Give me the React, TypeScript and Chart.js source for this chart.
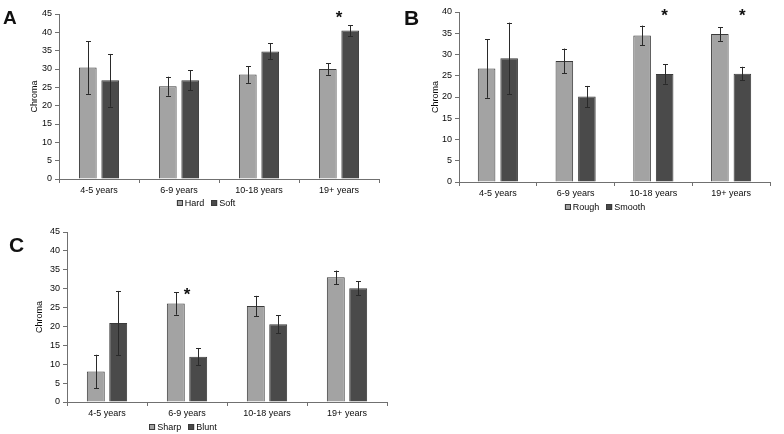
import React, { useEffect, useRef } from "react";
import { Chart, registerables } from "chart.js";

Chart.register(...registerables);

const categories = ["4-5 years", "6-9 years", "10-18 years", "19+ years"];

// Panel A
const seriesA = ["Hard", "Soft"];
const hardMeans = [30.4, 25.3, 28.5, 30.0];
const hardErrors = [7.2, 2.6, 2.3, 1.6];
const softMeans = [26.9, 26.9, 34.8, 40.5];
const softErrors = [7.2, 2.7, 2.2, 1.5];
const starsA = [{ category: 3, series: -1, value: 45.2 }];
const yMaxA = 45;

// Panel B
const seriesB = ["Rough", "Smooth"];
const roughMeans = [26.7, 28.5, 34.5, 34.8];
const roughErrors = [6.9, 2.9, 2.3, 1.6];
const smoothMeans = [29.1, 20.1, 25.4, 25.5];
const smoothErrors = [8.4, 2.5, 2.3, 1.6];
const starsB = [
  { category: 2, series: 1, value: 40.3 },
  { category: 3, series: 1, value: 40.3 },
];
const yMaxB = 40;

// Panel C
const seriesC = ["Sharp", "Blunt"];
const sharpMeans = [8.1, 26.1, 25.4, 33.0];
const sharpErrors = [4.4, 3.0, 2.7, 1.8];
const bluntMeans = [20.9, 12.0, 20.6, 30.1];
const bluntErrors = [8.5, 2.3, 2.4, 1.9];
const starsC = [{ category: 1, series: -1, value: 29.7 }];
const yMaxC = 45;

const yStep = 5;
const yTitle = "Chroma";

const LIGHT = "#a3a3a3";
const DARK = "#4a4a4a";
const EDGE = "#3a3a3a";
const AXIS = "#707070";
const TEXT = "#0a0a0a";
const FONT = "'Liberation Sans', Arial, sans-serif";

type Star = { category: number; series: number; value: number };

type Geo = {
  left: number;
  top: number;
  width: number;
  height: number;
  padL: number;
  padR: number;
  padT: number;
  padB: number;
  yWidth: number;
  legendX: number;
  legendY: number;
  catPct: number;
  barPct: number;
};

type PanelProps = {
  names: string[];
  means: number[][];
  errors: number[][];
  stars: Star[];
  yMax: number;
  geo: Geo;
};

function Panel({ names, means, errors, stars, yMax, geo }: PanelProps) {
  const ref = useRef<HTMLCanvasElement | null>(null);
  useEffect(() => {
    if (!ref.current) return;
    const colors = [LIGHT, DARK];
    const extras = {
      id: "extras",
      afterDatasetsDraw(chart: any) {
        const ctx = chart.ctx;
        const y = chart.scales.y;
        ctx.save();
        ctx.strokeStyle = "#2a2a2a";
        ctx.lineWidth = 1;
        chart.data.datasets.forEach((ds: any, di: number) => {
          const meta = chart.getDatasetMeta(di);
          meta.data.forEach((bar: any, i: number) => {
            const v = ds.data[i];
            const e = errors[di][i];
            const x = Math.round(bar.x) + 0.5;
            const yt = y.getPixelForValue(v + e);
            const yb = y.getPixelForValue(v - e);
            ctx.beginPath();
            ctx.moveTo(x, yt);
            ctx.lineTo(x, yb);
            ctx.moveTo(x - 2.5, Math.round(yt) + 0.5);
            ctx.lineTo(x + 2.5, Math.round(yt) + 0.5);
            ctx.moveTo(x - 2.5, Math.round(yb) + 0.5);
            ctx.lineTo(x + 2.5, Math.round(yb) + 0.5);
            ctx.stroke();
          });
        });
        ctx.restore();
      },
      afterDraw(chart: any) {
        const ctx = chart.ctx;
        const xs = chart.scales.x;
        const ys = chart.scales.y;
        ctx.save();
        // significance stars
        ctx.fillStyle = "#111";
        ctx.font = `bold 17px ${FONT}`;
        ctx.textAlign = "center";
        ctx.textBaseline = "alphabetic";
        stars.forEach((s) => {
          const x =
            s.series < 0
              ? xs.getPixelForValue(s.category)
              : chart.getDatasetMeta(s.series).data[s.category].x;
          const yy = ys.getPixelForValue(s.value);
          ctx.fillText("*", x, yy + 10);
        });
        // legend
        ctx.font = `9px ${FONT}`;
        ctx.textAlign = "left";
        ctx.textBaseline = "middle";
        const box = 6;
        const gap = 2;
        const spacing = 7;
        const widths = names.map((n) => box + gap + ctx.measureText(n).width);
        const total = widths.reduce((a, b) => a + b, 0) + spacing * (names.length - 1);
        let lx = geo.legendX - total / 2;
        names.forEach((n, i) => {
          ctx.fillStyle = colors[i];
          ctx.fillRect(lx, geo.legendY - box / 2, box, box);
          ctx.strokeStyle = EDGE;
          ctx.lineWidth = 1;
          ctx.strokeRect(Math.round(lx) + 0.5, Math.round(geo.legendY - box / 2) + 0.5, box - 1, box - 1);
          ctx.fillStyle = TEXT;
          ctx.fillText(n, lx + box + gap, geo.legendY + 0.5);
          lx += widths[i] + spacing;
        });
        ctx.restore();
      },
    };

    const chart = new Chart(ref.current, {
      type: "bar",
      data: {
        labels: categories,
        datasets: names.map((n, i) => ({
          label: n,
          data: means[i],
          backgroundColor: colors[i],
          borderColor: EDGE,
          borderWidth: 1,
          categoryPercentage: geo.catPct,
          barPercentage: geo.barPct,
        })),
      },
      options: {
        responsive: false,
        animation: false,
        devicePixelRatio: 1,
        layout: {
          padding: { left: geo.padL, right: geo.padR, top: geo.padT, bottom: geo.padB },
        },
        plugins: {
          legend: { display: false },
          tooltip: { enabled: false },
        },
        scales: {
          x: {
            grid: { drawOnChartArea: false, tickLength: 4, color: AXIS },
            border: { color: AXIS },
            ticks: { color: TEXT, font: { size: 9, family: FONT }, padding: 2, maxRotation: 0 },
            afterFit: (s: any) => {
              s.height = 18;
            },
          },
          y: {
            min: 0,
            max: yMax,
            grid: { drawOnChartArea: false, tickLength: 4, color: AXIS },
            border: { color: AXIS },
            ticks: { stepSize: yStep, color: TEXT, font: { size: 9, family: FONT }, padding: 3 },
            title: {
              display: true,
              text: yTitle,
              color: TEXT,
              font: { size: 9, family: FONT },
              padding: 0,
            },
            afterFit: (s: any) => {
              s.width = geo.yWidth;
            },
          },
        },
      },
      plugins: [extras],
    } as any);
    return () => chart.destroy();
  }, []);
  return (
    <canvas
      ref={ref}
      width={geo.width}
      height={geo.height}
      style={{
        position: "absolute",
        left: geo.left,
        top: geo.top,
        width: geo.width,
        height: geo.height,
      }}
    />
  );
}

const letterStyle: React.CSSProperties = {
  position: "absolute",
  fontFamily: FONT,
  fontWeight: "bold",
  lineHeight: 1,
  color: "#111",
};

export default function App() {
  return (
    <div
      style={{
        position: "fixed",
        left: 0,
        top: 0,
        width: 784,
        height: 434,
        background: "#fff",
        overflow: "hidden",
      }}
    >
      <Panel
        names={seriesA}
        means={[hardMeans, softMeans]}
        errors={[hardErrors, softErrors]}
        stars={starsA}
        yMax={yMaxA}
        geo={{
          left: 0,
          top: 0,
          width: 392,
          height: 218,
          padL: 29,
          padR: 13,
          padT: 14,
          padB: 21,
          yWidth: 30,
          legendX: 206,
          legendY: 203,
          catPct: 0.56,
          barPct: 0.79,
        }}
      />
      <Panel
        names={seriesB}
        means={[roughMeans, smoothMeans]}
        errors={[roughErrors, smoothErrors]}
        stars={starsB}
        yMax={yMaxB}
        geo={{
          left: 392,
          top: 0,
          width: 392,
          height: 218,
          padL: 38,
          padR: 14,
          padT: 12,
          padB: 18,
          yWidth: 29,
          legendX: 213,
          legendY: 207,
          catPct: 0.58,
          barPct: 0.78,
        }}
      />
      <Panel
        names={seriesC}
        means={[sharpMeans, bluntMeans]}
        errors={[sharpErrors, bluntErrors]}
        stars={starsC}
        yMax={yMaxC}
        geo={{
          left: 0,
          top: 218,
          width: 392,
          height: 216,
          padL: 34,
          padR: 5,
          padT: 14,
          padB: 14,
          yWidth: 33,
          legendX: 183,
          legendY: 209,
          catPct: 0.56,
          barPct: 0.8,
        }}
      />
      <div style={{ ...letterStyle, left: 3, top: 8, fontSize: 19 }}>A</div>
      <div style={{ ...letterStyle, left: 404, top: 7, fontSize: 21 }}>B</div>
      <div style={{ ...letterStyle, left: 9, top: 234, fontSize: 21 }}>C</div>
    </div>
  );
}
